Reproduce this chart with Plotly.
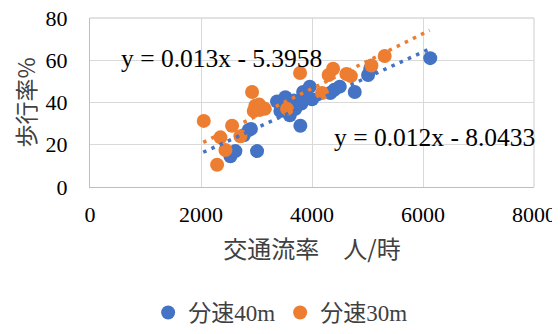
import plotly.graph_objects as go

# 分速40m (blue)
x40 = [2530, 2620, 3010, 2770, 2900, 2860, 3370, 3430, 3520, 3600, 3670, 3700, 3810, 3840,
       3790, 3960, 4000, 4330, 4400, 4500, 4770, 5010, 5050, 6130, 3480, 3560]
y40 = [14.5, 17, 17, 24.5, 27.5, 27, 40.5, 36, 42.5, 34, 41, 37, 39.5, 45,
       29, 47.5, 41.5, 44.5, 46, 47.5, 45, 53, 56, 61, 38, 40]
# 分速30m (orange)
x30 = [2050, 2290, 2350, 2440, 2560, 2710, 2920, 2980, 3060, 2950, 3050, 3150, 3550,
       3785, 4180, 4300, 4380, 4620, 4700, 5070, 5310]
y30 = [31.3, 10.5, 23.5, 17.5, 29, 24, 45, 38.5, 36.5, 36, 39, 37, 37,
       54, 44.5, 53, 56, 53.5, 52.5, 57.5, 62]

# trendlines (from the chart equations)
slope40, icpt40 = 0.012, -8.0433
slope30, icpt30 = 0.013, -5.3958
trend_x = [2040, 6120]

names = ["分速40m", "分速30m"]
colors = ["#4472C4", "#ED7D31"]
eq_text = ["y = 0.012x - 8.0433", "y = 0.013x - 5.3958"]

SERIF = "Liberation Serif, Noto Sans CJK JP, serif"
CJK = "Noto Sans CJK JP, sans-serif"

fig = go.Figure()
for xs, ys, nm, c in [(x40, y40, names[0], colors[0]), (x30, y30, names[1], colors[1])]:
    fig.add_trace(go.Scatter(x=xs, y=ys, mode="markers", name=nm,
                             marker=dict(color=c, size=14, line=dict(width=0))))
for (s, b), c in [((slope40, icpt40), colors[0]), ((slope30, icpt30), colors[1])]:
    fig.add_trace(go.Scatter(x=trend_x, y=[s * v + b for v in trend_x], mode="lines",
                             showlegend=False, hoverinfo="skip",
                             line=dict(color=c, width=3.5, dash="3.5px,5.5px")))

fig.add_annotation(x=2365, y=60.7, text=eq_text[1], showarrow=False,
                   font=dict(family=SERIF, size=25.5, color="#000000"))
fig.add_annotation(x=6212, y=23.2, text=eq_text[0], showarrow=False,
                   font=dict(family=SERIF, size=25.5, color="#000000"))

# top and right frame of the plot area (lighter gridline colour)
fig.add_shape(type="line", xref="paper", yref="paper", x0=0, x1=1, y0=1, y1=1,
              line=dict(color="#d9d9d9", width=1.3), layer="below")
fig.add_shape(type="line", xref="paper", yref="paper", x0=1, x1=1, y0=0, y1=1,
              line=dict(color="#d9d9d9", width=1.3), layer="below")

# page body has an 8px default margin: figure is 552x326 placed at (8, 8)
fig.update_layout(
    width=552, height=326,
    margin=dict(l=82, r=26, t=10, b=147),
    paper_bgcolor="white", plot_bgcolor="white",
    font=dict(family=SERIF, size=22, color="#404040"),
    showlegend=True,
    legend=dict(orientation="h", xref="container", yref="container",
                x=0.493, xanchor="center", y=0.0, yanchor="bottom",
                font=dict(family=SERIF, size=23, color="#404040"),
                itemwidth=30, tracegroupgap=0),
    xaxis=dict(range=[0, 8000], dtick=2000, showgrid=True, gridcolor="#d9d9d9", gridwidth=1.3,
               showline=True, linecolor="#bfbfbf", linewidth=1.3, zeroline=False,
               automargin=False, ticklabeloverflow="allow",
               ticks="outside", ticklen=7, tickcolor="rgba(0,0,0,0)",
               tickfont=dict(family=SERIF, size=22, color="#000000"),
               title=dict(text="交通流率　人/時", font=dict(family=CJK, size=24, color="#404040"),
                          standoff=15)),
    yaxis=dict(range=[0, 80], dtick=20, showgrid=True, gridcolor="#d9d9d9", gridwidth=1.3,
               showline=True, linecolor="#bfbfbf", linewidth=1.3, zeroline=False,
               automargin=False, ticklabeloverflow="allow",
               ticks="outside", ticklen=17, tickcolor="rgba(0,0,0,0)",
               tickfont=dict(family=SERIF, size=22, color="#000000"),
               title=dict(text="歩行率%", font=dict(family=CJK, size=23, color="#404040"),
                          standoff=11)),
)

fig.write_html("out.html")
